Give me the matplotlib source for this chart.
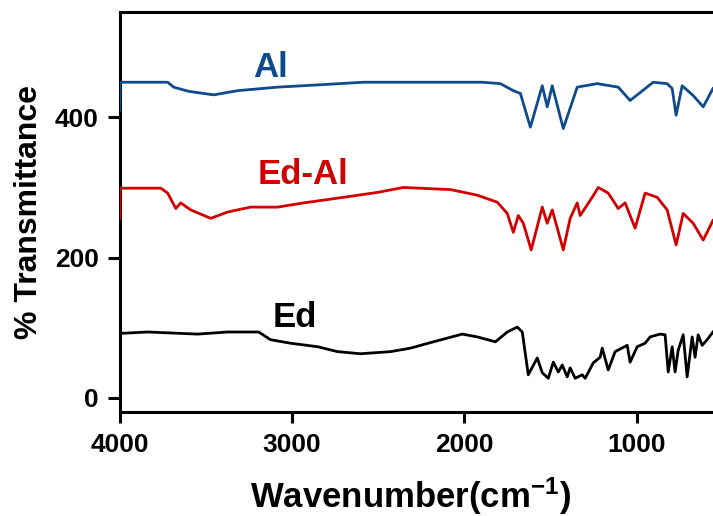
import matplotlib.pyplot as plt

plt.rcParams['font.family'] = ['Liberation Sans', 'DejaVu Sans']
plt.rcParams['font.weight'] = 'bold'
plt.rcParams['mathtext.default'] = 'regular'

# FTIR spectra (wavenumber in cm-1, % transmittance offset)
al_x = [4000, 3998, 3722, 3687, 3600, 3455, 3316, 3084, 2794, 2585, 1896, 1791, 1716,
        1675, 1617, 1548, 1519, 1490, 1426, 1345, 1229, 1107, 1038, 904, 823, 794, 771,
        736, 672, 614, 557]
al_y = [410, 450, 450, 443, 437, 432, 438, 443, 447, 450, 450, 448, 438,
        434, 386, 445, 415, 445, 384, 443, 448, 443, 424, 450, 448, 441, 403,
        445, 431, 415, 441]

edal_x = [4000, 3998, 3762, 3722, 3675, 3646, 3588, 3472, 3374, 3241, 3084, 2933, 2701,
          2504, 2354, 2081, 1925, 1809, 1751, 1716, 1687, 1658, 1612, 1548, 1519, 1490,
          1426, 1386, 1345, 1328, 1258, 1223, 1165, 1107, 1067, 1009, 951, 881, 823, 771,
          730, 672, 614, 557]
edal_y = [256, 299, 299, 292, 270, 278, 268, 256, 265, 272, 272, 278, 286,
          293, 300, 297, 289, 279, 263, 236, 260, 249, 211, 272, 249, 268,
          211, 256, 278, 260, 286, 300, 292, 270, 278, 242, 292, 286, 268, 218,
          263, 249, 225, 253]

ed_x = [4000, 3838, 3548, 3374, 3194, 3125, 3009, 2852, 2736, 2603, 2429, 2313, 2180,
        2012, 1925, 1820, 1751, 1693, 1664, 1629, 1577, 1548, 1513, 1484, 1455, 1432,
        1403, 1386, 1357, 1316, 1299, 1252, 1212, 1200, 1165, 1125, 1055, 1038, 997,
        951, 922, 864, 835, 817, 794, 777, 759, 730, 707, 678, 661, 643, 620, 591, 557]
ed_y = [92, 94, 91, 94, 94, 83, 78, 73, 66, 63, 66, 71, 80,
        91, 87, 80, 94, 101, 94, 33, 57, 36, 28, 51, 37, 47,
        30, 43, 28, 33, 28, 50, 58, 71, 40, 66, 75, 51, 73,
        78, 87, 91, 90, 37, 73, 37, 68, 90, 30, 87, 58, 90, 75, 83, 94]

blue = '#0f4a8c'
red = '#d20000'


def main():
    fig = plt.figure(figsize=(7.13, 5.16), dpi=100)
    ax = fig.add_axes([0.168, 0.2016, 0.832, 0.775])

    ax.plot(ed_x, ed_y, color='black', lw=2)
    ax.plot(edal_x, edal_y, color=red, lw=2, zorder=3)
    ax.plot(al_x, al_y, color=blue, lw=2, zorder=3)

    ax.text(3125, 471, 'Al', color=blue, fontsize=25, fontweight='bold', ha='center', va='center')
    ax.text(2939, 319, 'Ed-Al', color=red, fontsize=25, fontweight='bold', ha='center', va='center')
    ax.text(2986, 115, 'Ed', color='black', fontsize=25, fontweight='bold', ha='center', va='center')

    ax.set_xlim(4000, 557)
    ax.set_ylim(-20, 550)
    ax.set_xticks([4000, 3000, 2000, 1000])
    ax.set_yticks([0, 200, 400])

    for s in ['top', 'left', 'bottom']:
        ax.spines[s].set_linewidth(2.2)
    ax.spines['right'].set_visible(False)
    ax.tick_params(axis='x', width=2.2, length=8, labelsize=19, pad=7)
    ax.tick_params(axis='y', width=2.2, length=9, labelsize=19, pad=6)

    ax.set_xlabel('Wavenumber(cm$^{-1}$)', fontsize=25, fontweight='bold')
    ax.set_ylabel('% Transmittance', fontsize=23, fontweight='bold')
    ax.xaxis.set_label_coords(0.49, -0.16)
    ax.yaxis.set_label_coords(-0.127, 0.5)

    fig.savefig('out.png', dpi=100)


if __name__ == '__main__':
    main()
